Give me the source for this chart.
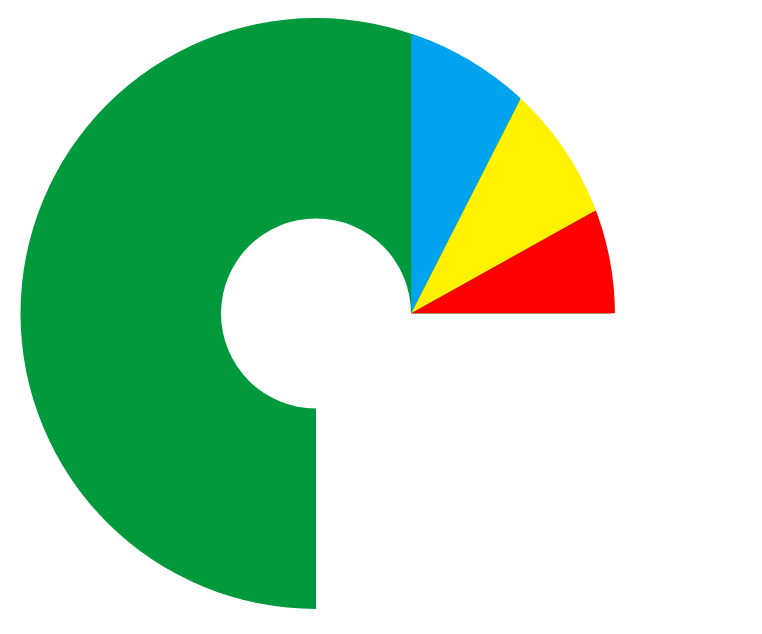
<!DOCTYPE html>
<html>
<head>
<meta charset="utf-8">
<script src="https://cdn.jsdelivr.net/npm/d3@7"></script>
<style>
  body { margin: 0; background: #fff; }
</style>
</head>
<body>
<script>
const { select, pie, arc, scaleLinear, sum } = d3;

// slice data (share of the full turn, in %)
const slices = ["Green", "Blue", "Yellow", "Red"];
const shares = [75, 7.5, 9.4, 8.1];
const colors = ["#009a3d", "#00a3ee", "#fff100", "#ff0000"];

const w = 762;
const h = 634;

// ring that holds the big slice, and the point the small ones fan out from
const center = [316, 313.5];
const innerR = 95;
const outerR = 295.5;
const apex = [center[0] + innerR + 0.3, 313.3];

const angle = scaleLinear().domain([0, 100]).range([0, 2 * Math.PI]);

// big slice starts at six o'clock and runs round to three o'clock
const bigArc = {
  name: slices[0],
  color: colors[0],
  startAngle: Math.PI,
  endAngle: Math.PI + angle(shares[0]),
};

// small slices fan out from twelve o'clock
const smallShares = shares.slice(1);
const smallArcs = pie()
  .sort(null)
  .startAngle(0)
  .endAngle(angle(sum(smallShares)))(smallShares)
  .map((d, i) => ({ ...d, name: slices[i + 1], color: colors[i + 1] }));

const svg = select("body")
  .append("svg")
  .attr("width", w)
  .attr("height", h);

svg
  .append("defs")
  .append("clipPath")
  .attr("id", "outer")
  .append("circle")
  .attr("cx", 319)
  .attr("cy", 315)
  .attr("r", 296);

const ringArc = arc().innerRadius(innerR).outerRadius(outerR);
const fanArc = arc().innerRadius(0).outerRadius(420);

/* big slice as a ring */
svg
  .append("g")
  .attr("transform", `translate(${center[0]},${center[1]})`)
  .selectAll("path")
  .data([bigArc])
  .join("path")
  .attr("class", "slice")
  .attr("d", ringArc)
  .attr("fill", (d) => d.color);

/* small slices fanned from the apex, cut by the outer edge */
svg
  .append("g")
  .attr("clip-path", "url(#outer)")
  .append("g")
  .attr("transform", `translate(${apex[0]},${apex[1]})`)
  .selectAll("path")
  .data(smallArcs)
  .join("path")
  .attr("class", "slice")
  .attr("d", fanArc)
  .attr("fill", (d) => d.color);
</script>
</body>
</html>
